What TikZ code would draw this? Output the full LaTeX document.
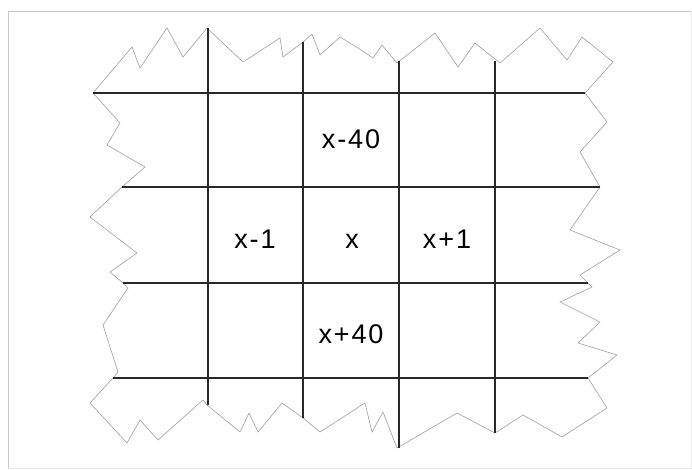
\documentclass[tikz,border=0pt]{standalone}
\usepackage{fontspec}
\setmainfont{Liberation Sans}[LetterSpace=7]
\usetikzlibrary{positioning}
\definecolor{ink}{RGB}{40,40,40}
\definecolor{pencil}{RGB}{160,160,160}
\definecolor{frame}{RGB}{200,200,200}
\tikzset{
  gridline/.style={draw=ink,line width=1.05pt},
  torn/.style={draw=pencil,line width=0.6pt,line join=miter},
  cell/.style={font=\fontsize{27}{27}\selectfont,text=black,anchor=base,inner sep=0pt},
}
\begin{document}
\begin{tikzpicture}[x=1pt,y=-1pt]
        \useasboundingbox (0,0) rectangle (692,470);
        \fill[white] (0,0) rectangle (692,470);
        % frame
        \draw[frame,line width=0.8pt] (8,468) -- (8,11) -- (691,11);
        \draw[frame!40,line width=0.6pt] (691,11) -- (691,468) -- (8,468);
        % torn outline
        \draw[torn] (93,93) -- (132,47) -- (140,68) -- (167,28) -- (183,57) -- (207,28)
          -- (243,62) -- (280,38) -- (283,57) -- (303,42) -- (312,34) -- (320,55)
          -- (340,37) -- (358,48) -- (373,58) -- (382,45) -- (397,63) -- (435,33)
          -- (458,67) -- (475,43) -- (500,63) -- (540,28) -- (567,60) -- (582,37)
          -- (613,62) -- (585,93) -- (607,122) -- (580,152) -- (600,187) -- (570,230)
          -- (620,250) -- (580,275) -- (592,287) -- (560,302) -- (600,322) -- (578,343)
          -- (617,355) -- (588,378) -- (607,408) -- (562,437) -- (523,415) -- (495,433)
          -- (457,413) -- (397,448) -- (383,412) -- (372,432) -- (365,403) -- (320,432)
          -- (303,418) -- (282,403) -- (258,432) -- (249,413) -- (240,432) -- (207,405)
          -- (203,400) -- (158,440) -- (140,420) -- (127,443) -- (90,403) -- (113,378)
          -- (118,372) -- (103,325) -- (128,288) -- (123,283) -- (110,272) -- (137,253)
          -- (90,217) -- (122,187) -- (145,167) -- (107,145) -- (120,123) -- cycle;
        % grid
        \foreach \x/\a/\b in {208/28/405,303/42/418,399/61/448,495/61/433}
          \draw[gridline] (\x,\a) -- (\x,\b);
        \foreach \y/\a/\b in {93/93/585,187/122/600,283/123/588,378/113/588}
          \draw[gridline] (\a,\y) -- (\b,\y);
        % cells
        \node[cell] (up) at (351,149) {x-40};
        \node[cell] (left) at (255,248) {x-1};
        \node[cell] (mid) at (352,248) {x};
        \node[cell] (right) at (447,248) {x+1};
        \node[cell] (down) at (351,343) {x+40};
      \end{tikzpicture}
\end{document}
